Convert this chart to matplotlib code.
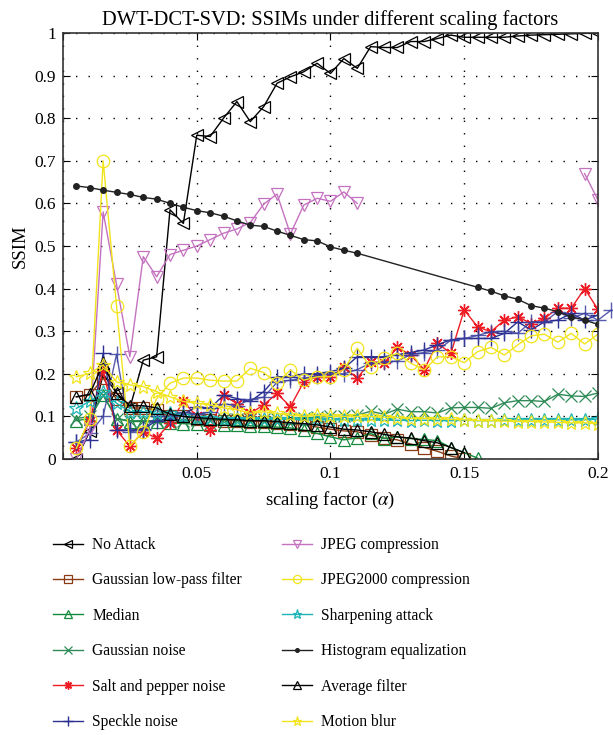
import numpy as np
import matplotlib
matplotlib.use("Agg")
import matplotlib.pyplot as plt

plt.rcParams['font.family'] = ['Liberation Serif', 'DejaVu Serif']
plt.rcParams['mathtext.fontset'] = 'stix'

# scaling factor alpha: 0.005 ... 0.2
alpha = [0.005, 0.010, 0.015, 0.020, 0.025, 0.030, 0.035, 0.040, 0.045, 0.050,
         0.055, 0.060, 0.065, 0.070, 0.075, 0.080, 0.085, 0.090, 0.095, 0.100,
         0.105, 0.110, 0.115, 0.120, 0.125, 0.130, 0.135, 0.140, 0.145, 0.150,
         0.155, 0.160, 0.165, 0.170, 0.175, 0.180, 0.185, 0.190, 0.195, 0.200]
alpha_ext = alpha + [0.205]

no_attack = [0.0, 0.065, 0.20, 0.155, 0.12, 0.232, 0.24, 0.585, 0.553, 0.76,
             0.757, 0.80, 0.839, 0.792, 0.827, 0.882, 0.897, 0.909, 0.929, 0.905,
             0.94, 0.917, 0.968, 0.966, 0.966, 0.98, 0.98, 0.987, 0.995, 0.99,
             0.99, 0.99, 0.99, 0.993, 0.995, 0.996, 0.997, 0.998, 0.999, 1.0]

gauss_lowpass = [0.146, 0.15, 0.19, 0.14, 0.12, 0.12, 0.115, 0.10, 0.10, 0.095,
                 0.092, 0.09, 0.09, 0.088, 0.088, 0.085, 0.082, 0.08, 0.075, 0.07,
                 0.066, 0.064, 0.056, 0.049, 0.045, 0.035, 0.027, 0.018, 0.007, 0.0]

median = [0.09, 0.095, 0.15, 0.095, 0.088, 0.088, 0.086, 0.085, 0.083, 0.082,
          0.08, 0.08, 0.079, 0.078, 0.077, 0.075, 0.073, 0.068, 0.06, 0.052,
          0.045, 0.05, 0.06, 0.048, 0.052, 0.048, 0.046, 0.043, 0.027, 0.015,
          0.002]

gauss_noise = [0.095, 0.10, 0.15, 0.095, 0.09, 0.09, 0.09, 0.09, 0.09, 0.092,
               0.092, 0.093, 0.093, 0.094, 0.095, 0.095, 0.096, 0.097, 0.098, 0.10,
               0.10, 0.103, 0.112, 0.105, 0.117, 0.111, 0.111, 0.108, 0.12, 0.121,
               0.121, 0.119, 0.132, 0.137, 0.137, 0.135, 0.152, 0.148, 0.147, 0.155]

salt_pepper = [0.025, 0.09, 0.21, 0.068, 0.03, 0.064, 0.049, 0.084, 0.135, 0.10,
               0.068, 0.15, 0.13, 0.107, 0.127, 0.154, 0.123, 0.181, 0.193, 0.193,
               0.215, 0.19, 0.228, 0.225, 0.262, 0.244, 0.21, 0.272, 0.248, 0.35,
               0.31, 0.299, 0.326, 0.334, 0.318, 0.33, 0.354, 0.354, 0.40, 0.351]

speckle_a = [0.04, 0.045, 0.248, 0.068, 0.068, 0.07, 0.09, 0.095, 0.105, 0.123,
             0.119, 0.15, 0.142, 0.135, 0.158, 0.193, 0.193, 0.20, 0.20, 0.205,
             0.213, 0.24, 0.24, 0.24, 0.245, 0.25, 0.256, 0.268, 0.28, 0.283,
             0.283, 0.283, 0.295, 0.322, 0.303, 0.322, 0.326, 0.342, 0.326, 0.338]

speckle_b = [0.04, 0.06, 0.10, 0.246, 0.064, 0.068, 0.10, 0.10, 0.11, 0.105,
             0.11, 0.13, 0.125, 0.14, 0.145, 0.18, 0.185, 0.19, 0.195, 0.20,
             0.20, 0.21, 0.225, 0.228, 0.23, 0.245, 0.25, 0.255, 0.279, 0.283,
             0.29, 0.299, 0.30, 0.295, 0.322, 0.322, 0.346, 0.33, 0.342, 0.326,
             0.35]

jpeg = [0.0, 0.07, 0.58, 0.41, 0.24, 0.475, 0.428, 0.48, 0.49, 0.50,
        0.515, 0.53, 0.54, 0.555, 0.598, 0.622, 0.528, 0.596, 0.612, 0.605,
        0.627, 0.60, np.nan, np.nan, np.nan, np.nan, np.nan, np.nan, np.nan, np.nan,
        np.nan, np.nan, np.nan, np.nan, np.nan, np.nan, np.nan, np.nan, 0.67, 0.608]

jpeg2000 = [0.025, 0.095, 0.70, 0.36, 0.03, 0.064, 0.142, 0.178, 0.19, 0.19,
            0.185, 0.183, 0.183, 0.213, 0.203, 0.178, 0.209, 0.185, 0.193, 0.193,
            0.21, 0.26, 0.215, 0.236, 0.248, 0.225, 0.209, 0.24, 0.24, 0.226,
            0.252, 0.262, 0.244, 0.268, 0.289, 0.293, 0.274, 0.295, 0.27, 0.293]

sharpening = [0.119, 0.135, 0.158, 0.131, 0.111, 0.111, 0.107, 0.109, 0.10, 0.097,
              0.096, 0.095, 0.095, 0.094, 0.094, 0.093, 0.093, 0.092, 0.092, 0.092,
              0.092, 0.091, 0.092, 0.091, 0.091, 0.09, 0.091, 0.09, 0.09, 0.091,
              0.09, 0.09, 0.091, 0.092, 0.092, 0.092, 0.092, 0.092, 0.092, 0.094]

hist_alpha = [0.005, 0.010, 0.015, 0.020, 0.025, 0.030, 0.035, 0.040, 0.045, 0.050,
              0.055, 0.060, 0.065, 0.070, 0.075, 0.080, 0.085, 0.090, 0.095, 0.100,
              0.105, 0.110, 0.155, 0.160, 0.165, 0.170, 0.175, 0.180, 0.185, 0.190,
              0.195, 0.200]
hist_eq = [0.641, 0.637, 0.631, 0.626, 0.621, 0.614, 0.610, 0.600, 0.591, 0.583,
           0.578, 0.570, 0.559, 0.549, 0.546, 0.535, 0.525, 0.515, 0.512, 0.498,
           0.49, 0.483, 0.403, 0.394, 0.383, 0.375, 0.36, 0.354, 0.346, 0.334,
           0.326, 0.316]

average = [0.146, 0.152, 0.225, 0.155, 0.125, 0.125, 0.12, 0.105, 0.10, 0.097,
           0.095, 0.093, 0.092, 0.09, 0.09, 0.088, 0.085, 0.083, 0.08, 0.075,
           0.07, 0.068, 0.064, 0.058, 0.052, 0.049, 0.043, 0.038, 0.027, 0.015]

motion_blur = [0.193, 0.201, 0.221, 0.181, 0.174, 0.17, 0.158, 0.146, 0.135, 0.131,
               0.127, 0.12, 0.116, 0.107, 0.111, 0.107, 0.103, 0.10, 0.103, 0.10,
               0.10, 0.10, 0.10, 0.098, 0.097, 0.095, 0.095, 0.094, 0.093, 0.092,
               0.09, 0.09, 0.089, 0.088, 0.088, 0.087, 0.086, 0.085, 0.085, 0.083]

yticks = [0, 0.1, 0.2, 0.3, 0.4, 0.5, 0.6, 0.7, 0.8, 0.9, 1]
ytick_labels = ['0', '0.1', '0.2', '0.3', '0.4', '0.5', '0.6', '0.7', '0.8', '0.9', '1']
xticks = [0, 0.05, 0.1, 0.15, 0.2]
xtick_labels = ['', '0.05', '0.1', '0.15', '0.2']

fig = plt.figure(figsize=(6.13, 7.35), dpi=100)
ax = fig.add_axes([0.1028, 0.3755, 0.8727, 0.5796])

ms = 9
lw = 1.0
open_kw = dict(markerfacecolor='none', markersize=ms, linewidth=lw, markeredgewidth=0.9)
star_kw = dict(markerfacecolor='none', markersize=ms + 1, linewidth=lw, markeredgewidth=0.9)

ax.plot(alpha, no_attack, color='black', marker='<', label='No Attack', **open_kw)
ax.plot(alpha[:len(gauss_lowpass)], gauss_lowpass, color='#8c3c14', marker='s',
        label='Gaussian low-pass filter', markerfacecolor='none', markersize=ms - 1,
        linewidth=lw, markeredgewidth=0.9)
ax.plot(alpha[:len(median)], median, color='#148a3c', marker='^', label='Median', **open_kw)
ax.plot(alpha, gauss_noise, color='#2e8b57', marker='x', label='Gaussian noise', **open_kw)
# MATLAB-style asterisk (8 arms)
ax.plot(alpha, salt_pepper, color='#ee1c24', marker=(8, 2, 0), markersize=ms,
        linewidth=lw, markeredgewidth=1.0, label='Salt and pepper noise')
ax.plot(alpha, speckle_a, color='#2b2f8f', marker='+', markersize=ms + 2, linewidth=lw,
        markeredgewidth=1.0, label='Speckle noise')
ax.plot(alpha_ext, speckle_b, color='#3a3f9e', marker='+', markersize=ms + 2, linewidth=lw,
        markeredgewidth=1.0, alpha=0.85, clip_on=False, label='_nolegend_')
ax.plot(alpha, jpeg, color='#c472c0', marker='v', label='JPEG compression', **open_kw)
ax.plot(alpha, jpeg2000, color='#f2e41c', marker='o', label='JPEG2000 compression', **open_kw)
ax.plot(alpha, sharpening, color='#1cb4b4', marker='*', label='Sharpening attack', **star_kw)
ax.plot(hist_alpha, hist_eq, color='#222222', marker='o', markersize=4, linewidth=lw,
        label='Histogram equalization')
ax.plot(alpha[:len(average)], average, color='black', marker='^', label='Average filter', **open_kw)
ax.plot(alpha, motion_blur, color='#f2e41c', marker='*', label='Motion blur', **star_kw)

ax.set_xlim(0, 0.2)
ax.set_ylim(0, 1)
ax.set_xticks(xticks)
ax.set_xticklabels(xtick_labels)
ax.set_yticks(yticks)
ax.set_yticklabels(ytick_labels)
ax.tick_params(direction='in', top=True, right=True, length=5, labelsize=12.5, pad=5)
ax.grid(True, color='black', linestyle=(0, (1, 8)), linewidth=1.0)
for s in ax.spines.values():
    s.set_color('#333333')
    s.set_linewidth(1.2)

ax.set_title('DWT-DCT-SVD: SSIMs under different scaling factors', fontsize=14.8, pad=6)
ax.set_xlabel(r'scaling factor ($\alpha$)', fontsize=13.5, labelpad=6)
ax.set_ylabel('SSIM', fontsize=13.5, labelpad=4)

handles, labels = ax.get_legend_handles_labels()
fig.legend(handles, labels, loc='upper left', bbox_to_anchor=(0.0865, 0.2694),
           ncol=2, frameon=False, fontsize=11.2, markerscale=0.65, numpoints=1,
           handlelength=1.93, handletextpad=0.58, columnspacing=2.57,
           labelspacing=1.25, borderpad=0, borderaxespad=0)

fig.savefig('out.png', dpi=100)
